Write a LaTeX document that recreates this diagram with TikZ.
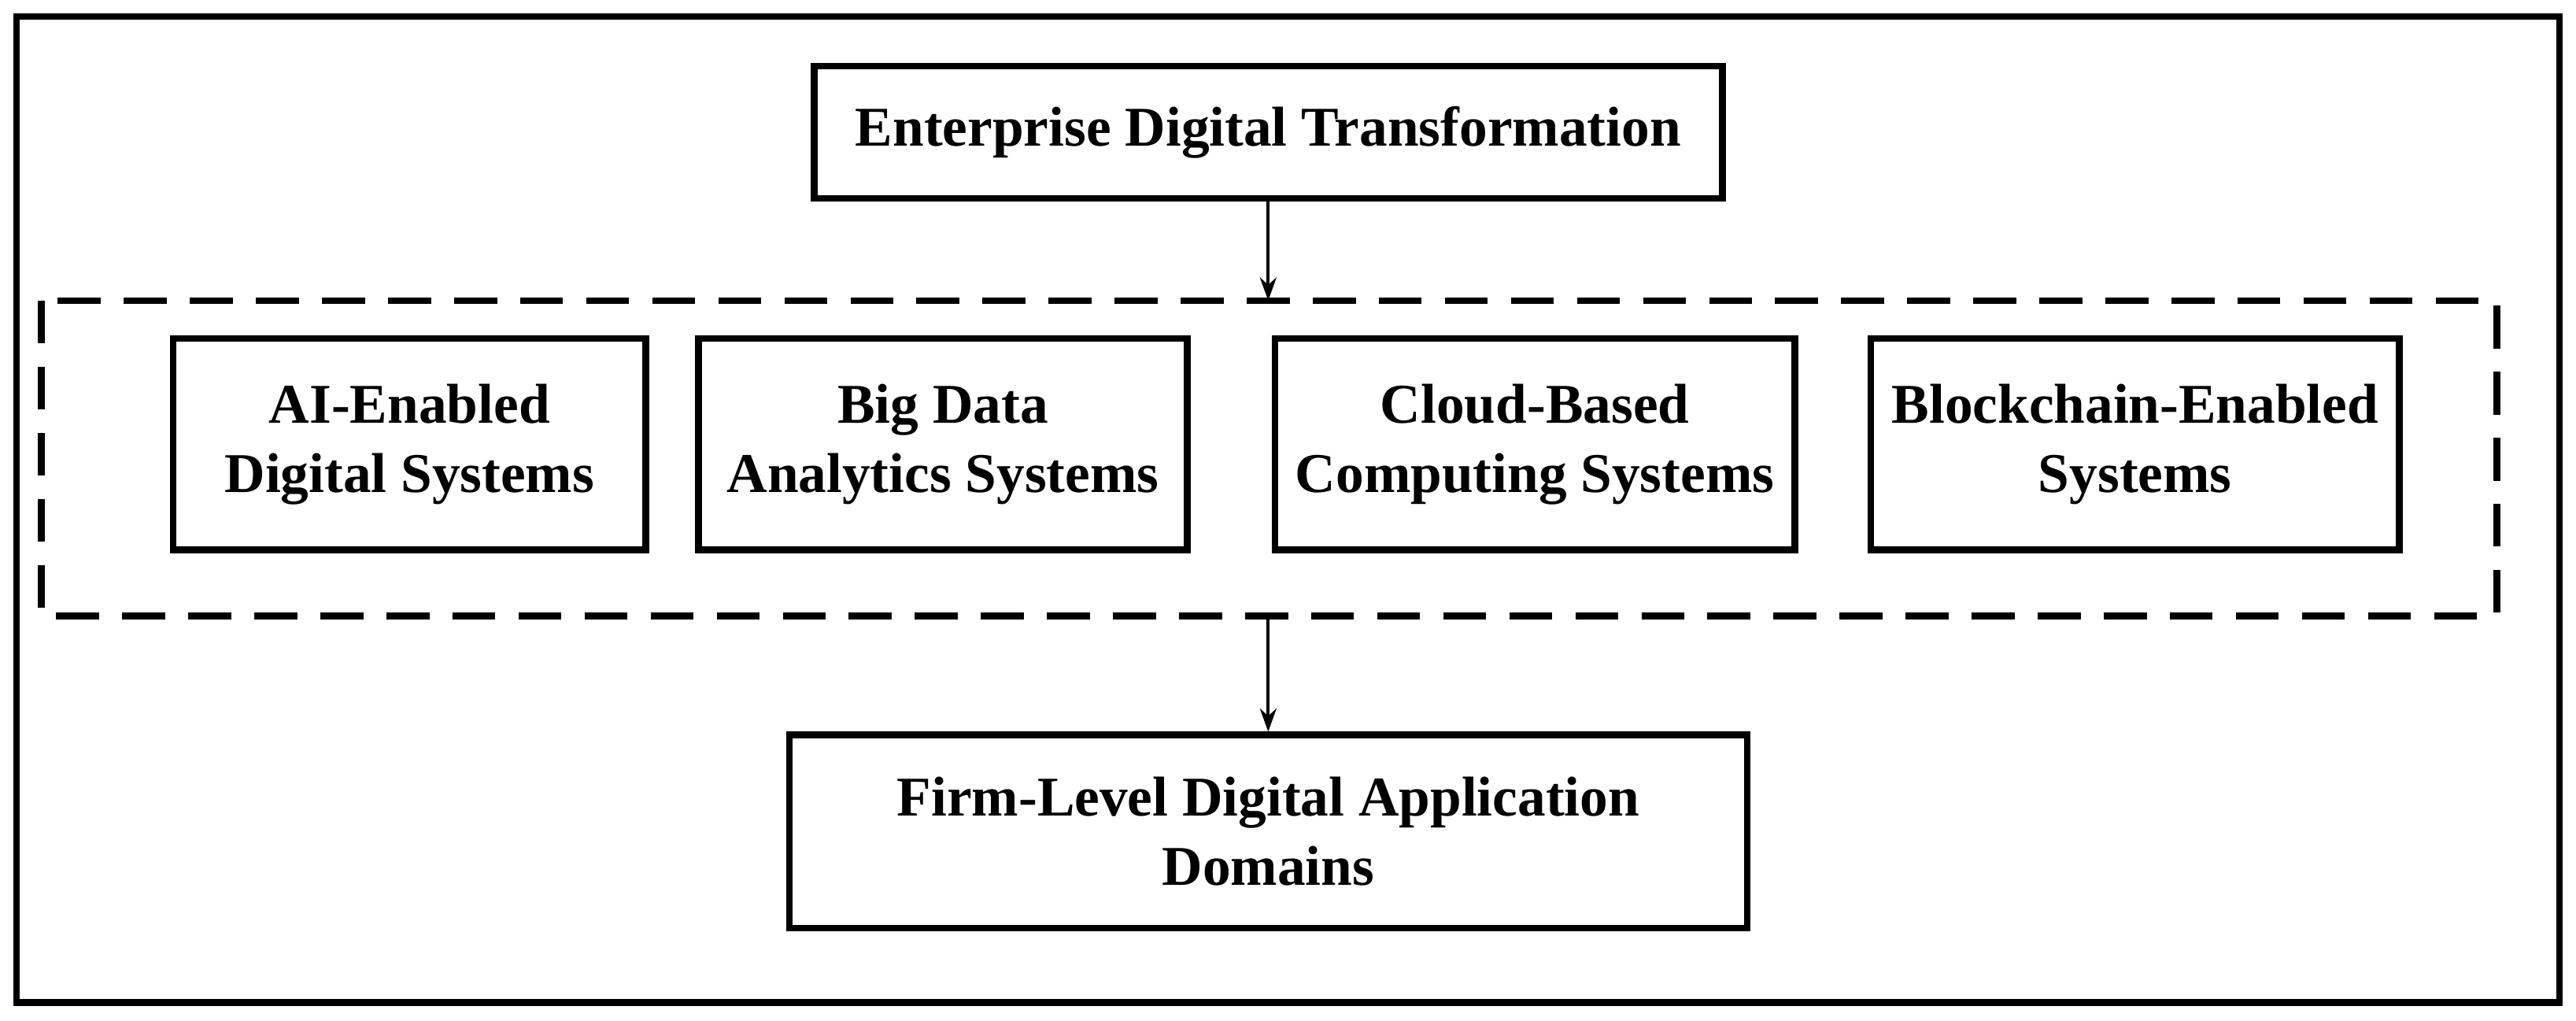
\documentclass[tikz,border=0pt]{standalone}
\usepackage{fontspec}
\setmainfont{Liberation Serif}
\usetikzlibrary{arrows.meta}
\begin{document}
\begin{tikzpicture}[x=1pt,y=-1pt,
  box/.style={draw,line width=4pt,font=\fontsize{34}{42}\selectfont\bfseries,align=center,inner sep=0pt},
  arr/.style={line width=2pt,-{Stealth[length=14pt,width=10pt]}}]
\useasboundingbox (0,0) rectangle (1560,618);
\draw[line width=4pt] (10,10) rectangle (1550,607);
\node[box,minimum width=550pt,minimum height=80pt] (top) at (768,80) {Enterprise Digital Transformation};
\draw[line width=4pt,dash pattern=on 26pt off 14pt] (25,182) rectangle (1512,373);
\coordinate (dtop) at (768,182);
\coordinate (dbot) at (768,373);
\node[box,minimum width=286pt,minimum height=128pt] (a) at (248,269) {AI-Enabled\\Digital Systems};
\node[box,minimum width=296pt,minimum height=128pt] (b) at (571,269) {Big Data\\Analytics Systems};
\node[box,minimum width=315pt,minimum height=128pt] (c) at (929.5,269) {Cloud-Based\\Computing Systems};
\node[box,minimum width=320pt,minimum height=128pt] (d) at (1293,269) {Blockchain-Enabled\\Systems};
\node[box,minimum width=580pt,minimum height=117pt] (bot) at (768,503.5) {Firm-Level Digital Application\\Domains};
\draw[arr] (top.south) -- (dtop);
\draw[arr] (dbot) -- (bot.north);
\end{tikzpicture}
\end{document}
